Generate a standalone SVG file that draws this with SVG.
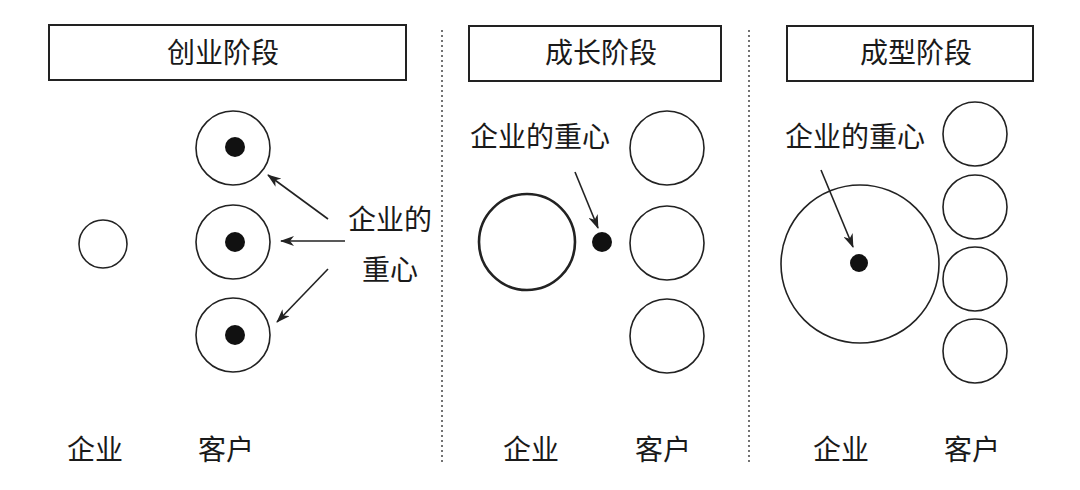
<svg xmlns="http://www.w3.org/2000/svg" width="1080" height="490" viewBox="0 0 1080 490">
<style>
.t{font-family:"Noto Sans CJK SC","Noto Sans CJK JP",sans-serif;font-size:28px;fill:#1a1a1a}
.box{fill:#fff;stroke:#222;stroke-width:2}
.c{fill:#fff;stroke:#222;stroke-width:1.6}
.dot{fill:#111}
.div{stroke:#444;stroke-width:1.5;stroke-dasharray:2 3}
.ar{stroke:#222;stroke-width:1.6;fill:none;marker-end:url(#ah)}
</style>
<defs>
<marker id="ah" markerUnits="userSpaceOnUse" viewBox="0 0 14 10" refX="13" refY="5" markerWidth="14" markerHeight="10" orient="auto">
<path d="M0,0 L14,5 L0,10 L4,5 z" fill="#222"/>
</marker>
</defs>
<rect width="1080" height="490" fill="#fff"/>
<g id="dividers">
<line class="div" x1="442" y1="30" x2="442" y2="463"/>
<line class="div" x1="749" y1="30" x2="749" y2="463"/>
</g>
<g id="stage1">
<rect class="box" x="49" y="25" width="357" height="55"/>
<text class="t" x="223" y="63" text-anchor="middle">创业阶段</text>
</g>
<g id="stage2">
<rect class="box" x="469" y="26" width="252" height="55"/>
<text class="t" x="601" y="63" text-anchor="middle">成长阶段</text>
</g>
<g id="stage3">
<rect class="box" x="787" y="26" width="246" height="55"/>
<text class="t" x="916" y="63" text-anchor="middle">成型阶段</text>
</g>
<g id="p1-enterprise">
<circle class="c" cx="103" cy="244" r="24"/>
<text class="t" x="95" y="460" text-anchor="middle">企业</text>
</g>
<g id="p1-customers">
<circle class="c" cx="233" cy="148" r="37"/>
<circle class="dot" cx="235" cy="147" r="10"/>
<circle class="c" cx="233" cy="242" r="37"/>
<circle class="dot" cx="235" cy="242" r="10"/>
<circle class="c" cx="233" cy="335" r="37"/>
<circle class="dot" cx="235" cy="335" r="10"/>
<text class="t" x="226" y="460" text-anchor="middle">客户</text>
</g>
<g id="p1-label">
<text class="t" x="390" y="230" text-anchor="middle">企业的</text>
<text class="t" x="390" y="280" text-anchor="middle">重心</text>
</g>
<g id="p2-enterprise">
<circle cx="527" cy="242" r="48" fill="#fff" stroke="#222" stroke-width="2.6"/>
<circle class="dot" cx="602" cy="242" r="10"/>
<text class="t" x="540" y="147" text-anchor="middle">企业的重心</text>
<text class="t" x="531" y="460" text-anchor="middle">企业</text>
</g>
<g id="p2-customers">
<circle class="c" cx="667" cy="148" r="37"/>
<circle class="c" cx="667" cy="243" r="37"/>
<circle class="c" cx="667" cy="336" r="37"/>
<text class="t" x="663" y="460" text-anchor="middle">客户</text>
</g>
<g id="p3-enterprise">
<circle class="c" cx="860" cy="264" r="79"/>
<circle class="dot" cx="859" cy="263" r="9"/>
<text class="t" x="855" y="147" text-anchor="middle">企业的重心</text>
<text class="t" x="841" y="460" text-anchor="middle">企业</text>
</g>
<g id="p3-customers">
<circle class="c" cx="975" cy="134" r="32"/>
<circle class="c" cx="975" cy="207" r="32"/>
<circle class="c" cx="975" cy="279" r="32"/>
<circle class="c" cx="975" cy="351" r="32"/>
<text class="t" x="972" y="460" text-anchor="middle">客户</text>
</g>
<g id="connectors">
<line class="ar" x1="328" y1="219" x2="268" y2="175"/>
<line class="ar" x1="345" y1="241" x2="281" y2="241"/>
<line class="ar" x1="328" y1="269" x2="277" y2="322"/>
<line class="ar" x1="575" y1="172" x2="598" y2="228"/>
<line class="ar" x1="821" y1="170" x2="853" y2="247"/>
</g>
</svg>
